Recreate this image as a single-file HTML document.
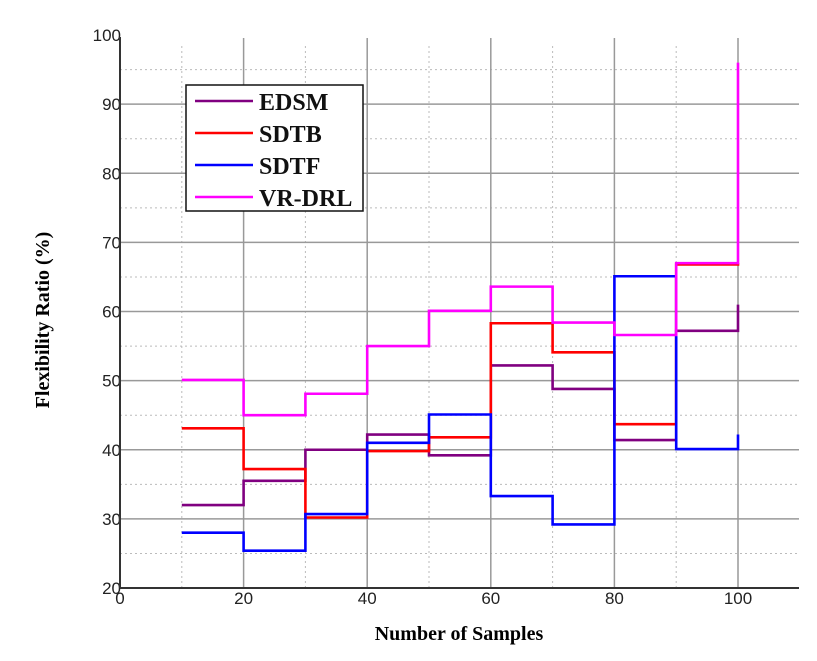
<!DOCTYPE html>
<html><head><meta charset="utf-8"><style>
body{margin:0;background:#fff;}
svg{display:block;}
</style></head><body>
<svg id="chart" width="817" height="661" xmlns="http://www.w3.org/2000/svg">
<g id="grid"></g>
<g id="series"></g>
<g id="axes"></g>
<text x="459" y="640" text-anchor="middle" font-family="Liberation Serif, serif" font-weight="bold" font-size="20">Number of Samples</text>
<text transform="translate(49,320) rotate(-90)" text-anchor="middle" font-family="Liberation Serif, serif" font-weight="bold" font-size="20">Flexibility Ratio (%)</text>
<g id="legend"></g>
</svg>
<script>
const xSamples=[10,20,30,40,50,60,70,80,90,100];
const seriesNames=["EDSM","SDTB","SDTF","VR-DRL"];
const edsm=[32,35.5,40,42.2,39.2,52.2,48.8,41.4,57.2,61];
const sdtb=[43.1,37.2,30.2,39.8,41.8,58.3,54.1,43.7,66.8,67];
const sdtf=[28,25.4,30.7,41,45.1,33.3,29.2,65.1,40.1,42.2];
const vrdrl=[50.1,45,48.1,55,60.1,63.6,58.4,56.6,67,96];
const xTicks=[0,20,40,60,80,100];
const yTicks=[20,30,40,50,60,70,80,90,100];
const colors=["#800080","#ff0000","#0000ff","#ff00ff"];
const NS="http://www.w3.org/2000/svg";
const X0=120,X1=738,Y0=588,Y1=35;
function sx(v){return X0+(v-0)*(X1-X0)/100;}
function sy(v){return Y0-(v-20)*(Y0-Y1)/80;}
function mk(tag,attrs,parent){const e=document.createElementNS(NS,tag);for(const k in attrs)e.setAttribute(k,attrs[k]);parent.appendChild(e);return e;}
const grid=document.getElementById('grid'),axes=document.getElementById('axes'),ser=document.getElementById('series'),leg=document.getElementById('legend');
const RIGHT=799;
for(let v=10;v<=90;v+=20){const l=mk('line',{x1:sx(v),x2:sx(v),y1:Y0,y2:Y1+8,stroke:'#bbb','stroke-width':1,'stroke-dasharray':'2,3'},grid);

}
for(let v=25;v<=95;v+=10){const l=mk('line',{x1:X0,x2:RIGHT,y1:sy(v),y2:sy(v),stroke:'#bbb','stroke-width':1,'stroke-dasharray':'2,3'},grid);

}
xTicks.forEach(v=>{if(v>0){const l=mk('line',{x1:sx(v),x2:sx(v),y1:Y0,y2:Y1+3,stroke:'#999','stroke-width':1.5},grid);

}
const t=mk('text',{x:sx(v),y:Y0+16,'text-anchor':'middle','font-family':'Liberation Sans, sans-serif','font-size':17,fill:'#222'},axes);t.textContent=v;

});
yTicks.forEach(v=>{if(v>20&&v<100){const l=mk('line',{x1:X0,x2:RIGHT,y1:sy(v),y2:sy(v),stroke:'#999','stroke-width':1.5},grid);

}
const t=mk('text',{x:X0+1,y:sy(v)+6,'text-anchor':'end','font-family':'Liberation Sans, sans-serif','font-size':17,fill:'#222'},axes);t.textContent=v;

});
const ax1=mk('line',{x1:X0,x2:X0,y1:Y0,y2:Y1+2,stroke:'#333','stroke-width':2},axes);


const ax2=mk('line',{x1:X0,x2:RIGHT,y1:Y0,y2:Y0,stroke:'#333','stroke-width':2},axes);


const data=[edsm,sdtb,sdtf,vrdrl];
data.forEach((vals,i)=>{let d='M'+sx(xSamples[0])+','+sy(vals[0]);
for(let k=1;k<xSamples.length;k++){d+=' H'+sx(xSamples[k])+' V'+sy(vals[k]);}
const p=mk('path',{d:d,fill:'none',stroke:colors[i],'stroke-width':2.6},ser);

});
const box=mk('rect',{x:186,y:85,width:177,height:126,fill:'#fff',stroke:'#111','stroke-width':1.5},leg);


seriesNames.forEach((n,i)=>{const y=101+i*32;
const l=mk('line',{x1:195,x2:253,y1:y,y2:y,stroke:colors[i],'stroke-width':2.6},leg);


const t=mk('text',{x:259,y:y+9,'font-family':'Liberation Serif, serif','font-weight':'bold','font-size':24,fill:'#111'},leg);t.textContent=n;

});
</script>
</body></html>
